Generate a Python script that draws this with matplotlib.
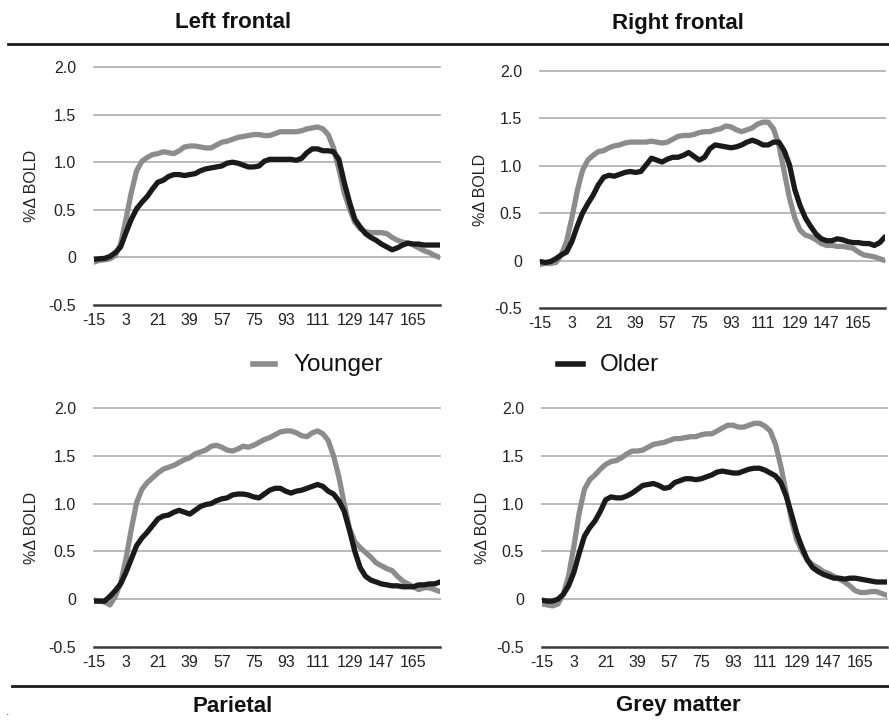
import matplotlib
matplotlib.use('Agg')
import matplotlib.pyplot as plt
from matplotlib.lines import Line2D

plt.rcParams['font.family'] = ['Liberation Sans', 'DejaVu Sans']

# time (s) relative to stimulus onset, one sample every 3 s
seconds = list(range(-15, 181, 3))
tick_seconds = [-15, 3, 21, 39, 57, 75, 93, 111, 129, 147, 165]
y_ticks = [-0.5, 0, 0.5, 1.0, 1.5, 2.0]
y_tick_labels = ['-0.5', '0', '0.5', '1.0', '1.5', '2.0']

left_frontal_younger = [
    -0.05, -0.03, -0.025, -0.015, 0.02, 0.14,
    0.40, 0.68, 0.91, 1.01, 1.05, 1.08,
    1.09, 1.11, 1.10, 1.09, 1.12, 1.16,
    1.17, 1.17, 1.16, 1.15, 1.15, 1.18,
    1.21, 1.22, 1.24, 1.26, 1.27, 1.28,
    1.29, 1.29, 1.28, 1.28, 1.30, 1.32,
    1.32, 1.32, 1.32, 1.33, 1.35, 1.36,
    1.37, 1.35, 1.29, 1.15, 0.93, 0.68,
    0.51, 0.37, 0.30, 0.27, 0.26, 0.26,
    0.26, 0.25, 0.21, 0.18, 0.16, 0.15,
    0.13, 0.10, 0.07, 0.05, 0.02, 0.00]
left_frontal_older = [
    -0.02, -0.015, -0.01, 0.01, 0.05, 0.11,
    0.26, 0.40, 0.51, 0.58, 0.64, 0.72,
    0.79, 0.81, 0.85, 0.87, 0.87, 0.86,
    0.87, 0.88, 0.91, 0.93, 0.94, 0.95,
    0.96, 0.99, 1.00, 0.99, 0.97, 0.95,
    0.95, 0.96, 1.01, 1.03, 1.03, 1.03,
    1.03, 1.03, 1.02, 1.04, 1.10, 1.14,
    1.14, 1.12, 1.12, 1.11, 1.03, 0.79,
    0.58, 0.40, 0.32, 0.25, 0.21, 0.18,
    0.14, 0.11, 0.08, 0.10, 0.13, 0.15,
    0.14, 0.14, 0.13, 0.13, 0.13, 0.13]

right_frontal_younger = [
    -0.04, -0.03, -0.03, -0.02, 0.06, 0.20,
    0.45, 0.73, 0.95, 1.06, 1.11, 1.15,
    1.16, 1.19, 1.21, 1.22, 1.24, 1.25,
    1.25, 1.25, 1.25, 1.26, 1.25, 1.24,
    1.25, 1.28, 1.31, 1.32, 1.32, 1.33,
    1.35, 1.36, 1.36, 1.38, 1.39, 1.42,
    1.41, 1.38, 1.36, 1.38, 1.40, 1.44,
    1.46, 1.46, 1.39, 1.22, 0.94, 0.66,
    0.45, 0.32, 0.27, 0.25, 0.22, 0.18,
    0.16, 0.16, 0.15, 0.15, 0.14, 0.13,
    0.09, 0.06, 0.05, 0.04, 0.02, 0.00]
right_frontal_older = [
    -0.01, -0.02, -0.01, 0.02, 0.06, 0.09,
    0.20, 0.36, 0.50, 0.60, 0.69, 0.80,
    0.88, 0.90, 0.89, 0.91, 0.93, 0.94,
    0.93, 0.94, 1.01, 1.08, 1.06, 1.04,
    1.07, 1.09, 1.09, 1.11, 1.14, 1.10,
    1.06, 1.09, 1.18, 1.22, 1.21, 1.20,
    1.19, 1.20, 1.22, 1.25, 1.27, 1.25,
    1.22, 1.22, 1.25, 1.25, 1.16, 1.01,
    0.75, 0.58, 0.45, 0.36, 0.28, 0.23,
    0.21, 0.21, 0.23, 0.22, 0.20, 0.19,
    0.19, 0.18, 0.18, 0.16, 0.19, 0.25]

parietal_younger = [
    -0.01, -0.02, -0.03, -0.06, 0.03, 0.17,
    0.42, 0.73, 1.01, 1.15, 1.22, 1.27,
    1.32, 1.36, 1.38, 1.40, 1.43, 1.46,
    1.48, 1.52, 1.54, 1.56, 1.60, 1.61,
    1.59, 1.56, 1.55, 1.57, 1.60, 1.59,
    1.61, 1.64, 1.67, 1.69, 1.72, 1.75,
    1.76, 1.76, 1.74, 1.71, 1.70, 1.74,
    1.76, 1.73, 1.66, 1.50, 1.28, 1.00,
    0.74, 0.60, 0.54, 0.49, 0.44, 0.38,
    0.35, 0.32, 0.30, 0.24, 0.19, 0.16,
    0.13, 0.10, 0.12, 0.12, 0.10, 0.08]
parietal_older = [
    -0.02, -0.02, -0.02, 0.03, 0.09, 0.16,
    0.28, 0.42, 0.56, 0.64, 0.70, 0.77,
    0.84, 0.87, 0.88, 0.91, 0.93, 0.91,
    0.89, 0.93, 0.97, 0.99, 1.00, 1.03,
    1.05, 1.06, 1.09, 1.10, 1.10, 1.09,
    1.07, 1.06, 1.10, 1.14, 1.16, 1.16,
    1.13, 1.11, 1.13, 1.14, 1.16, 1.18,
    1.20, 1.18, 1.13, 1.10, 1.03, 0.92,
    0.72, 0.50, 0.33, 0.24, 0.20, 0.18,
    0.16, 0.15, 0.14, 0.14, 0.13, 0.13,
    0.13, 0.15, 0.15, 0.16, 0.16, 0.18]

grey_matter_younger = [
    -0.05, -0.06, -0.07, -0.05, 0.05, 0.24,
    0.55, 0.90, 1.15, 1.25, 1.30, 1.36,
    1.41, 1.44, 1.45, 1.48, 1.52, 1.55,
    1.55, 1.56, 1.59, 1.62, 1.63, 1.64,
    1.66, 1.68, 1.68, 1.69, 1.70, 1.70,
    1.72, 1.73, 1.73, 1.76, 1.79, 1.82,
    1.82, 1.80, 1.80, 1.82, 1.84, 1.84,
    1.81, 1.76, 1.62, 1.39, 1.11, 0.83,
    0.62, 0.50, 0.41, 0.36, 0.33, 0.29,
    0.27, 0.24, 0.21, 0.18, 0.14, 0.09,
    0.07, 0.07, 0.08, 0.08, 0.06, 0.04]
grey_matter_older = [
    -0.01, -0.02, -0.02, 0.00, 0.05, 0.14,
    0.28, 0.48, 0.66, 0.75, 0.82, 0.92,
    1.04, 1.07, 1.06, 1.06, 1.08, 1.11,
    1.15, 1.19, 1.20, 1.21, 1.19, 1.16,
    1.17, 1.22, 1.24, 1.26, 1.26, 1.25,
    1.26, 1.28, 1.30, 1.33, 1.34, 1.33,
    1.32, 1.32, 1.34, 1.36, 1.37, 1.37,
    1.35, 1.32, 1.29, 1.22, 1.08, 0.89,
    0.69, 0.54, 0.41, 0.33, 0.29, 0.26,
    0.24, 0.22, 0.22, 0.21, 0.22, 0.22,
    0.21, 0.20, 0.19, 0.18, 0.18, 0.18]

YOUNG_C = '#8c8c8c'
OLD_C = '#1a1a1a'
W, H = 889, 720


def px_axes(fig, x0, x1, y_top, y_bot):
    # axes placed in pixel coordinates (origin top-left)
    return fig.add_axes([x0 / W, 1 - y_bot / H, (x1 - x0) / W, (y_bot - y_top) / H])


def draw_panel(ax, younger, older, label_x):
    ax.plot(seconds, younger, color=YOUNG_C, lw=3.8, solid_joinstyle='round',
            solid_capstyle='round', zorder=3)
    ax.plot(seconds, older, color=OLD_C, lw=3.8, solid_joinstyle='round',
            solid_capstyle='round', zorder=3)
    ax.set_xlim(seconds[0], seconds[-1])
    ax.set_ylim(-0.5, 2.0)
    ax.set_yticks(y_ticks)
    ax.set_yticklabels(y_tick_labels)
    ax.set_xticks(tick_seconds)
    ax.set_xticklabels([str(s) for s in tick_seconds])
    for g in y_ticks[1:]:
        ax.axhline(g, color='#b4b4b4', lw=1.3, zorder=1, clip_on=False)
    for side in ['top', 'right', 'left']:
        ax.spines[side].set_visible(False)
    ax.spines['bottom'].set_color('#3a3a3a')
    ax.spines['bottom'].set_linewidth(1.8)
    ax.tick_params(axis='both', length=0, labelsize=11.5, colors='#222222')
    ax.tick_params(axis='y', pad=13)
    ax.tick_params(axis='x', pad=6)
    ax.set_ylabel('%Δ BOLD', fontsize=11.5, color='#222222')
    ax.yaxis.set_label_coords(label_x, 0.5)
    ax.patch.set_alpha(0)


fig = plt.figure(figsize=(W / 100, H / 100), dpi=100)

ax_lf = px_axes(fig, 94, 440, 67, 305)
draw_panel(ax_lf, left_frontal_younger, left_frontal_older, -0.158)
ax_rf = px_axes(fig, 540, 885, 71, 308)
draw_panel(ax_rf, right_frontal_younger, right_frontal_older, -0.152)
ax_pa = px_axes(fig, 94, 440, 408, 647)
draw_panel(ax_pa, parietal_younger, parietal_older, -0.158)
ax_gm = px_axes(fig, 542, 887, 408, 647)
draw_panel(ax_gm, grey_matter_younger, grey_matter_older, -0.152)

title_kw = dict(fontsize=16, fontweight='bold', ha='center', va='center', color='#111111')
fig.text(233 / W, 1 - 23 / H, 'Left frontal', **title_kw)
fig.text(678 / W, 1 - 23 / H, 'Right frontal', **title_kw)
fig.text(233 / W, 1 - 706 / H, 'Parietal', **title_kw)
fig.text(678 / W, 1 - 706 / H, 'Grey matter', **title_kw)

# rules under the top titles and above the bottom titles
fig.add_artist(Line2D([8 / W, 1], [1 - 44 / H] * 2, color='#1a1a1a', lw=2))
fig.add_artist(Line2D([12 / W, 1], [1 - 686 / H] * 2, color='#1a1a1a', lw=2))
fig.text(8 / W, 1 - 712 / H, '.', fontsize=9, color='#333333', ha='center', va='center')

# shared legend between the rows
fig.add_artist(Line2D([253 / W, 275 / W], [1 - 364 / H] * 2, color=YOUNG_C, lw=4))
fig.text(293 / W, 1 - 365 / H, 'Younger', fontsize=17.5, va='center', ha='left', color='#111111')
fig.add_artist(Line2D([558 / W, 583 / W], [1 - 364 / H] * 2, color=OLD_C, lw=4))
fig.text(600 / W, 1 - 365 / H, 'Older', fontsize=17.5, va='center', ha='left', color='#111111')

fig.savefig('out.png', dpi=100)
